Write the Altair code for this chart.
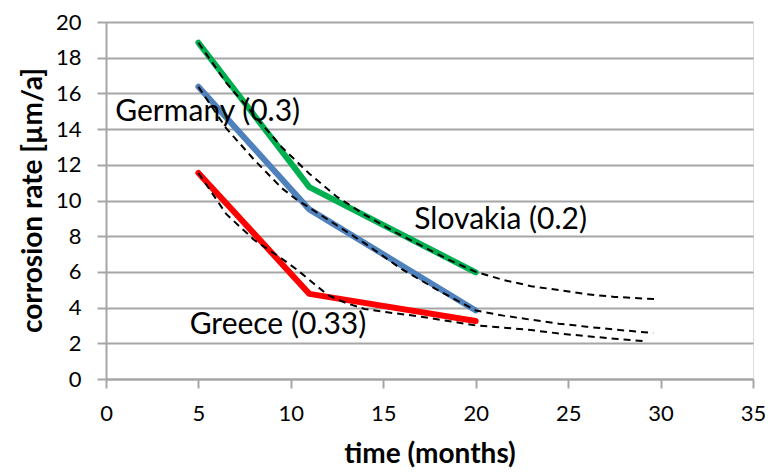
import altair as alt
import pandas as pd

# measured series (time in months, corrosion rate in µm/a)
months = [5, 11, 20]
slovakia = [18.84, 10.75, 5.97]
germany = [16.37, 9.5, 3.84]
greece = [11.54, 4.77, 3.25]

# dashed fitted curves
fit_sk_x = [5, 6.5, 8, 9.5, 11, 12.5, 14, 15.5, 17, 18.5, 20, 21.5, 23, 24.5, 26, 27.5, 29.8]
fit_sk_y = [18.84, 16.6, 14.8, 13.0, 11.5, 10.2, 9.2, 8.3, 7.5, 6.7, 6.0, 5.55, 5.2, 4.98, 4.75, 4.6, 4.47]
fit_de_x = [5, 6.5, 8, 9.5, 10.3, 11, 12.5, 14, 16, 18, 20, 21.5, 23, 24.5, 26, 27.5, 29.6]
fit_de_y = [16.37, 14.05, 12.3, 10.7, 10.06, 9.6, 8.6, 7.6, 6.15, 4.95, 3.84, 3.55, 3.32, 3.1, 2.93, 2.77, 2.58]
fit_gr_x = [5, 6.5, 8, 9.5, 10.3, 11, 12, 13, 14, 15.5, 17, 18.5, 20, 21.5, 23, 24.5, 26, 27.5, 29.05]
fit_gr_y = [11.54, 9.25, 7.8, 6.75, 6.15, 5.55, 4.7, 4.25, 3.92, 3.7, 3.5, 3.25, 3.0, 2.88, 2.74, 2.55, 2.4, 2.26, 2.12]

countries = ["Slovakia", "Germany", "Greece"]
colors = ["#00b050", "#4f81bd", "#ff0000"]

labels = ["Germany (0.3)", "Slovakia (0.2)", "Greece (0.33)"]
label_x = [5.5, 21.35, 9.3]
label_y = [14.98, 8.91, 3.0]

x_ticks = [0, 5, 10, 15, 20, 25, 30, 35]
y_ticks = [0, 2, 4, 6, 8, 10, 12, 14, 16, 18, 20]

meas = pd.DataFrame(
    [{"country": c, "t": t, "r": v}
     for c, vals in zip(countries, [slovakia, germany, greece])
     for t, v in zip(months, vals)]
)
fits = pd.DataFrame(
    [{"country": c, "t": t, "r": v}
     for c, xs, ys in zip(countries, [fit_sk_x, fit_de_x, fit_gr_x], [fit_sk_y, fit_de_y, fit_gr_y])
     for t, v in zip(xs, ys)]
)
ann = pd.DataFrame({"label": labels, "t": label_x, "r": label_y})

FONT = "Lato"
GRID = "#a6a6a6"

x_enc = alt.X(
    "t:Q",
    scale=alt.Scale(domain=[0, 35], nice=False, zero=False),
    axis=alt.Axis(
        values=x_ticks, tickCount=40, format="d", grid=False, title="time (months)",
        labelOverlap=False, labelFlush=False,
        domainColor=GRID, domainWidth=2, tickColor=GRID, tickWidth=2, tickSize=9,
        labelFont=FONT, labelFontSize=22, labelColor="black", labelPadding=15,
        titleFont=FONT, titleFontSize=28, titleFontWeight="bold", titleColor="black",
        titleBaseline="alphabetic", titleY=83,
    ),
)
y_enc = alt.Y(
    "r:Q",
    scale=alt.Scale(domain=[0, 20], nice=False, zero=False),
    axis=alt.Axis(
        values=y_ticks, tickCount=40, format="d", grid=True, gridColor=GRID, gridWidth=2,
        labelOverlap=False, labelFlush=False,
        title="corrosion rate [µm/a]",
        domainColor=GRID, domainWidth=2, tickColor=GRID, tickWidth=2, tickSize=9,
        labelFont=FONT, labelFontSize=22, labelColor="black", labelPadding=16,
        titleFont=FONT, titleFontSize=28, titleFontWeight="bold", titleColor="black",
        titleBaseline="middle", titleX=-73, titleY=178,
    ),
)

color_enc = alt.Color(
    "country:N",
    scale=alt.Scale(domain=countries, range=colors),
    legend=None,
)

lines = alt.Chart(meas).mark_line(strokeWidth=6, strokeCap="round", strokeJoin="round").encode(
    x=x_enc, y=y_enc, color=color_enc, order="t:Q"
)

dashed = alt.Chart(fits).mark_line(
    color="black", strokeWidth=2, strokeDash=[7, 5]
).encode(x="t:Q", y="r:Q", detail="country:N", order="t:Q")

texts = alt.Chart(ann).mark_text(
    font=FONT, fontSize=30, color="black", align="center", baseline="middle"
).encode(x="t:Q", y="r:Q", text="label:N")

chart = alt.layer(lines, dashed, texts).properties(
    width=647, height=357,
    autosize=alt.AutoSizeParams(type="none"),
    padding={"left": 98, "top": 14, "right": 12, "bottom": 89},
).configure_view(stroke=None).configure(background="white")

chart.save("out.html", embed_options={"renderer": "svg", "actions": False})
